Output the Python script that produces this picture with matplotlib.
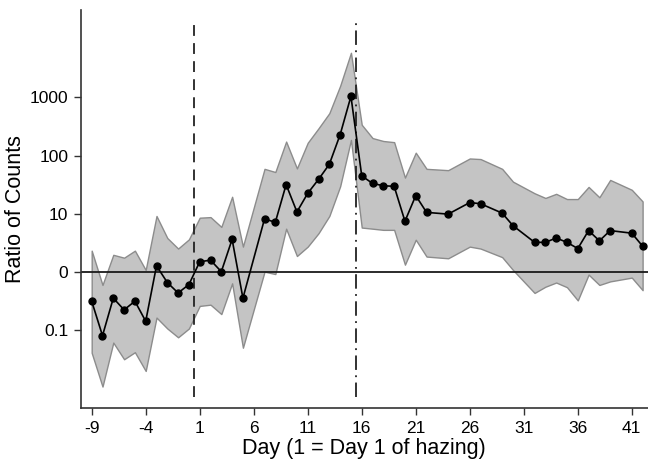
import matplotlib
matplotlib.use("Agg")
import matplotlib.pyplot as plt
import numpy as np

plt.rcParams['font.family'] = ['Liberation Sans', 'DejaVu Sans']

days = [-9, -8, -7, -6, -5, -4, -3, -2, -1, 0, 1, 2, 3, 4, 5, 7, 8, 9, 10, 11,
        12, 13, 14, 15, 16, 17, 18, 19, 20, 21, 22, 24, 26, 27, 29, 30, 32, 33,
        34, 35, 36, 37, 38, 39, 41, 42]

ratio = [0.31, 0.079, 0.35, 0.22, 0.31, 0.14, 1.26, 0.65, 0.43, 0.60, 1.48, 1.58,
         1.0, 3.6, 0.35, 8.1, 7.1, 31.6, 10.7, 22.4, 38.9, 70.8, 229, 1047, 44.7,
         33.1, 30.2, 29.5, 7.4, 20.4, 10.5, 9.8, 15.5, 14.8, 10.2, 6.2, 3.2, 3.2,
         3.8, 3.2, 2.5, 5.1, 3.4, 5.1, 4.6, 2.75]

upper = [2.3, 0.59, 1.95, 1.74, 2.3, 1.07, 9.1, 3.8, 2.5, 3.6, 8.5, 8.7, 5.9, 19.5,
         2.7, 59, 52, 174, 60, 166, 295, 537, 1585, 5890, 339, 200, 178, 170, 41.7,
         112, 59, 56, 89, 87, 59, 35.5, 22.4, 18.6, 21.9, 17.8, 17.8, 28.8, 19.1,
         38, 25.7, 16.2]

lower = [0.040, 0.0105, 0.060, 0.031, 0.041, 0.0195, 0.162, 0.105, 0.074, 0.105,
         0.257, 0.27, 0.186, 0.63, 0.049, 1.0, 0.91, 5.5, 1.86, 2.7, 4.6, 9.1, 29.5,
         186, 5.75, 5.5, 5.25, 5.25, 1.32, 3.55, 1.82, 1.70, 2.7, 2.5, 1.78, 1.07,
         0.43, 0.55, 0.65, 0.54, 0.32, 0.89, 0.59, 0.68, 0.79, 0.48]

x_ticks = [-9, -4, 1, 6, 11, 16, 21, 26, 31, 36, 41]
y_ticks = [0.1, 1, 10, 100, 1000]
y_tick_labels = ["0.1", "0", "10", "100", "1000"]

fig = plt.figure(figsize=(6.48, 4.68), dpi=100)
ax = fig.add_axes([0.1245, 0.128, 0.8755, 0.851])

ax.fill_between(days, lower, upper, facecolor="#c4c4c4", edgecolor="#8c8c8c",
                linewidth=1.0, zorder=1)
ax.axhline(1, color="#1a1a1a", linewidth=1.3, zorder=2)
ax.plot(days, ratio, color="black", linewidth=1.2, marker="o", markersize=5,
        zorder=4)

ax.axvline(0.5, ymin=0.028, ymax=0.975, color="#222222", linewidth=1.3,
           linestyle=(0, (6, 4)), zorder=3)
ax.axvline(15.5, ymin=0.028, ymax=0.975, color="#222222", linewidth=1.3,
           linestyle=(0, (8, 3, 1, 3)), zorder=3)

ax.set_yscale("log")
ax.set_xlim(-10.02, 42.5)
ax.set_ylim(10 ** -2.35, 10 ** 4.51)
ax.set_xticks(x_ticks)
ax.set_xticklabels([str(t) for t in x_ticks])
ax.set_yticks(y_ticks)
ax.set_yticklabels(y_tick_labels)
ax.yaxis.set_minor_locator(matplotlib.ticker.NullLocator())

for side in ("top", "right"):
    ax.spines[side].set_visible(False)
for side in ("left", "bottom"):
    ax.spines[side].set_color("#333333")
    ax.spines[side].set_linewidth(1.2)

ax.tick_params(axis="both", direction="out", length=5, width=1.0,
               colors="#333333", labelsize=12.5, labelcolor="black", pad=4)
ax.set_xlabel("Day (1 = Day 1 of hazing)", fontsize=15.5, labelpad=2)
ax.set_ylabel("Ratio of Counts", fontsize=15.5)
ax.yaxis.set_label_coords(-0.096, 0.5)

fig.savefig("out.png", dpi=100)
